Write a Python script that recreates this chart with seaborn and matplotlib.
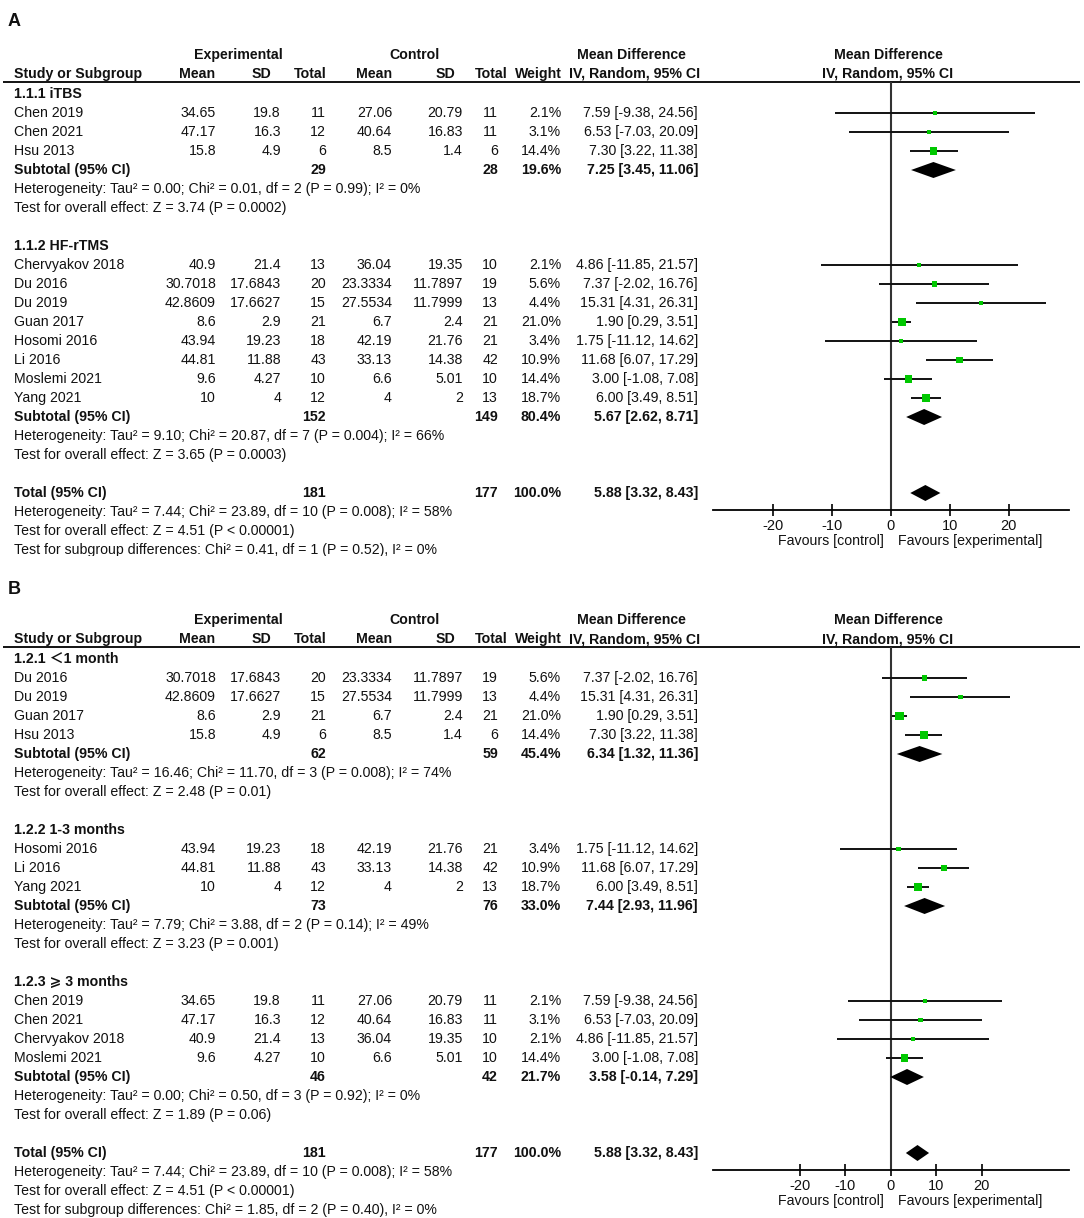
import numpy as np
import pandas as pd
import matplotlib
matplotlib.use("Agg")
import matplotlib.pyplot as plt
import seaborn as sns

sns.set_theme(style="white")
plt.rcParams['font.family'] = ['Liberation Sans', 'Noto Sans CJK SC', 'DejaVu Sans']
plt.rcParams['font.size'] = 10.2

# ---- study level data ----
studies = ["Chen 2019", "Chen 2021", "Hsu 2013", "Chervyakov 2018", "Du 2016", "Du 2019",
           "Guan 2017", "Hosomi 2016", "Li 2016", "Moslemi 2021", "Yang 2021"]
exp_mean = [34.65, 47.17, 15.8, 40.9, 30.7018, 42.8609, 8.6, 43.94, 44.81, 9.6, 10]
exp_sd = [19.8, 16.3, 4.9, 21.4, 17.6843, 17.6627, 2.9, 19.23, 11.88, 4.27, 4]
exp_n = [11, 12, 6, 13, 20, 15, 21, 18, 43, 10, 12]
ctl_mean = [27.06, 40.64, 8.5, 36.04, 23.3334, 27.5534, 6.7, 42.19, 33.13, 6.6, 4]
ctl_sd = [20.79, 16.83, 1.4, 19.35, 11.7897, 11.7999, 2.4, 21.76, 14.38, 5.01, 2]
ctl_n = [11, 11, 6, 10, 19, 13, 21, 21, 42, 10, 13]
weight = [2.1, 3.1, 14.4, 2.1, 5.6, 4.4, 21.0, 3.4, 10.9, 14.4, 18.7]
md = [7.59, 6.53, 7.30, 4.86, 7.37, 15.31, 1.90, 1.75, 11.68, 3.00, 6.00]
md_lo = [-9.38, -7.03, 3.22, -11.85, -2.02, 4.31, 0.29, -11.12, 6.07, -1.08, 3.49]
md_hi = [24.56, 20.09, 11.38, 21.57, 16.76, 26.31, 3.51, 14.62, 17.29, 7.08, 8.51]

df = pd.DataFrame({"exp_mean": exp_mean, "exp_sd": exp_sd, "exp_n": exp_n,
                   "ctl_mean": ctl_mean, "ctl_sd": ctl_sd, "ctl_n": ctl_n,
                   "weight": weight, "md": md, "lo": md_lo, "hi": md_hi}, index=studies)

# ---- panel A subgroups ----
A_labels = ["1.1.1 iTBS", "1.1.2 HF-rTMS"]
A_members = [["Chen 2019", "Chen 2021", "Hsu 2013"],
             ["Chervyakov 2018", "Du 2016", "Du 2019", "Guan 2017", "Hosomi 2016",
              "Li 2016", "Moslemi 2021", "Yang 2021"]]
A_sub_exp_n = [29, 152]
A_sub_ctl_n = [28, 149]
A_sub_w = [19.6, 80.4]
A_sub_md = [7.25, 5.67]
A_sub_lo = [3.45, 2.62]
A_sub_hi = [11.06, 8.71]
A_het = ["Heterogeneity: Tau² = 0.00; Chi² = 0.01, df = 2 (P = 0.99); I² = 0%",
         "Heterogeneity: Tau² = 9.10; Chi² = 20.87, df = 7 (P = 0.004); I² = 66%"]
A_z = ["Test for overall effect: Z = 3.74 (P = 0.0002)",
       "Test for overall effect: Z = 3.65 (P = 0.0003)"]
A_subdiff = "Test for subgroup differences: Chi² = 0.41, df = 1 (P = 0.52), I² = 0%"

# ---- panel B subgroups ----
B_labels = ["1.2.1 ＜1 month", "1.2.2 1-3 months", "1.2.3 ⩾ 3 months"]
B_members = [["Du 2016", "Du 2019", "Guan 2017", "Hsu 2013"],
             ["Hosomi 2016", "Li 2016", "Yang 2021"],
             ["Chen 2019", "Chen 2021", "Chervyakov 2018", "Moslemi 2021"]]
B_sub_exp_n = [62, 73, 46]
B_sub_ctl_n = [59, 76, 42]
B_sub_w = [45.4, 33.0, 21.7]
B_sub_md = [6.34, 7.44, 3.58]
B_sub_lo = [1.32, 2.93, -0.14]
B_sub_hi = [11.36, 11.96, 7.29]
B_het = ["Heterogeneity: Tau² = 16.46; Chi² = 11.70, df = 3 (P = 0.008); I² = 74%",
         "Heterogeneity: Tau² = 7.79; Chi² = 3.88, df = 2 (P = 0.14); I² = 49%",
         "Heterogeneity: Tau² = 0.00; Chi² = 0.50, df = 3 (P = 0.92); I² = 0%"]
B_z = ["Test for overall effect: Z = 2.48 (P = 0.01)",
       "Test for overall effect: Z = 3.23 (P = 0.001)",
       "Test for overall effect: Z = 1.89 (P = 0.06)"]
B_subdiff = "Test for subgroup differences: Chi² = 1.85, df = 2 (P = 0.40), I² = 0%"

# ---- overall ----
tot_exp_n, tot_ctl_n, tot_w = 181, 177, 100.0
tot_md, tot_lo, tot_hi = 5.88, 3.32, 8.43
tot_het = "Heterogeneity: Tau² = 7.44; Chi² = 23.89, df = 10 (P = 0.008); I² = 58%"
tot_z = "Test for overall effect: Z = 4.51 (P < 0.00001)"

tick_vals = [-20, -10, 0, 10, 20]
tick_labels = ["-20", "-10", "0", "10", "20"]

# ---- layout (pixels) ----
W, H = 1084, 1218
STEP = 19
COLS = [216, 281, 326, 392, 463, 498, 561, 698]       # right edges of value columns
HDR = [("Mean", 215), ("SD", 271), ("Total", 327), ("Mean", 392), ("SD", 455), ("Total", 508), ("Weight", 562)]
FX0, FX1 = 712.7, 1069.3
ZERO_PX = 890.7
GREEN = "#00c800"
TXT = "#111111"


def fmt_md(m, lo, hi):
    return f"{m:.2f} [{lo:.2f}, {hi:.2f}]"


fig = plt.figure(figsize=(W / 100, H / 100), dpi=100)
tab = fig.add_axes([0, 0, 1, 1])
tab.set_xlim(0, W)
tab.set_ylim(H, 0)
tab.axis("off")


def txt(x, y, s, ha="left", bold=False, **kw):
    tab.text(x, y, s, ha=ha, va="center", color=TXT,
             fontweight="bold" if bold else "normal", **kw)


def draw_panel(letter, letter_y, top_y, labels, members, sub_en, sub_cn, sub_w,
               sub_md, sub_lo, sub_hi, het, z, subdiff, xlim):
    txt(8, letter_y, letter, bold=True, fontsize=13)
    # headers
    txt(238, top_y, "Experimental", ha="center", bold=True)
    txt(414, top_y, "Control", ha="center", bold=True)
    txt(631, top_y, "Mean Difference", ha="center", bold=True)
    txt(888, top_y, "Mean Difference", ha="center", bold=True)
    y2 = top_y + STEP
    txt(14, y2, "Study or Subgroup", bold=True)
    for name, x in HDR:
        txt(x, y2, name, ha="right", bold=True)
    txt(700, y2, "IV, Random, 95% CI", ha="right", bold=True)
    txt(888, y2, "IV, Random, 95% CI", ha="center", bold=True)
    line_y = top_y + 27
    tab.hlines(line_y, 3, 1080, color="black", lw=1.3)

    # row positions
    y = top_y + 39
    study_rows, sub_rows = [], []
    for g, lab in enumerate(labels):
        txt(14, y, lab, bold=True)
        y += STEP
        for s in members[g]:
            r = df.loc[s]
            txt(14, y, s)
            vals = [f"{r.exp_mean:g}", f"{r.exp_sd:g}", f"{int(r.exp_n)}",
                    f"{r.ctl_mean:g}", f"{r.ctl_sd:g}", f"{int(r.ctl_n)}",
                    f"{r.weight:.1f}%", fmt_md(r.md, r.lo, r.hi)]
            for v, x in zip(vals, COLS):
                txt(x, y, v, ha="right")
            study_rows.append((s, y))
            y += STEP
        txt(14, y, "Subtotal (95% CI)", bold=True)
        txt(COLS[2], y, str(sub_en[g]), ha="right", bold=True)
        txt(COLS[5], y, str(sub_cn[g]), ha="right", bold=True)
        txt(COLS[6], y, f"{sub_w[g]:.1f}%", ha="right", bold=True)
        txt(COLS[7], y, fmt_md(sub_md[g], sub_lo[g], sub_hi[g]), ha="right", bold=True)
        sub_rows.append(y)
        y += STEP
        txt(14, y, het[g])
        y += STEP
        txt(14, y, z[g])
        y += 2 * STEP
    total_y = y
    txt(14, y, "Total (95% CI)", bold=True)
    txt(COLS[2], y, str(tot_exp_n), ha="right", bold=True)
    txt(COLS[5], y, str(tot_ctl_n), ha="right", bold=True)
    txt(COLS[6], y, f"{tot_w:.1f}%", ha="right", bold=True)
    txt(COLS[7], y, fmt_md(tot_md, tot_lo, tot_hi), ha="right", bold=True)
    txt(14, y + STEP, tot_het)
    txt(14, y + 2 * STEP, tot_z)
    txt(14, y + 3 * STEP, subdiff)

    # forest axes, y in figure pixels so rows line up with the table
    axis_y = total_y + 16.5
    ax = fig.add_axes([FX0 / W, 1 - axis_y / H, (FX1 - FX0) / W, (axis_y - line_y) / H])
    ax.set_facecolor("none")
    ax.set_xlim(*xlim)
    ax.set_ylim(axis_y, line_y)
    for side in ["top", "left", "right"]:
        ax.spines[side].set_visible(False)
    ax.spines["bottom"].set_color("black")
    ax.spines["bottom"].set_linewidth(1.3)
    ax.set_yticks([])
    ax.set_xticks(tick_vals)
    ax.set_xticklabels(tick_labels)
    ax.tick_params(axis="x", direction="inout", length=9, width=1.2, color="black",
                   labelsize=10.5, labelcolor=TXT, pad=2, bottom=True)
    ax.axvline(0, color="#333333", lw=1.5, zorder=1)

    sdf = df.loc[[s for s, _ in study_rows]].copy()
    sdf["row"] = [yy for _, yy in study_rows]
    ax.hlines(sdf["row"], sdf["lo"], sdf["hi"], color="#111111", lw=1.4, zorder=2)
    sns.scatterplot(x=sdf["md"], y=sdf["row"], ax=ax, marker="s", color=GREEN,
                    s=sdf["weight"] * 1.6 + 5, linewidth=0, zorder=3, legend=False)
    ax.set_xlabel("")
    ax.set_ylabel("")

    dh = 8
    for m, lo, hi, yy in zip(list(sub_md) + [tot_md], list(sub_lo) + [tot_lo],
                             list(sub_hi) + [tot_hi], sub_rows + [total_y]):
        ax.fill([lo, m, hi, m], [yy, yy - dh, yy, yy + dh], color="black", lw=0, zorder=4)

    txt(ZERO_PX - 7, axis_y + 31, "Favours [control]", ha="right")
    txt(ZERO_PX + 7, axis_y + 31, "Favours [experimental]", ha="left")


draw_panel("A", 22, 55, A_labels, A_members, A_sub_exp_n, A_sub_ctl_n, A_sub_w,
           A_sub_md, A_sub_lo, A_sub_hi, A_het, A_z, A_subdiff, (-30.2, 30.3))
draw_panel("B", 590, 620, B_labels, B_members, B_sub_exp_n, B_sub_ctl_n, B_sub_w,
           B_sub_md, B_sub_lo, B_sub_hi, B_het, B_z, B_subdiff, (-39.2, 39.3))

# panel A is cropped just below its last line in the source figure
tab.fill_between([0, W], 555.5, 572, color="white", lw=0, zorder=10)

fig.savefig("out.png", dpi=100, facecolor="white")
